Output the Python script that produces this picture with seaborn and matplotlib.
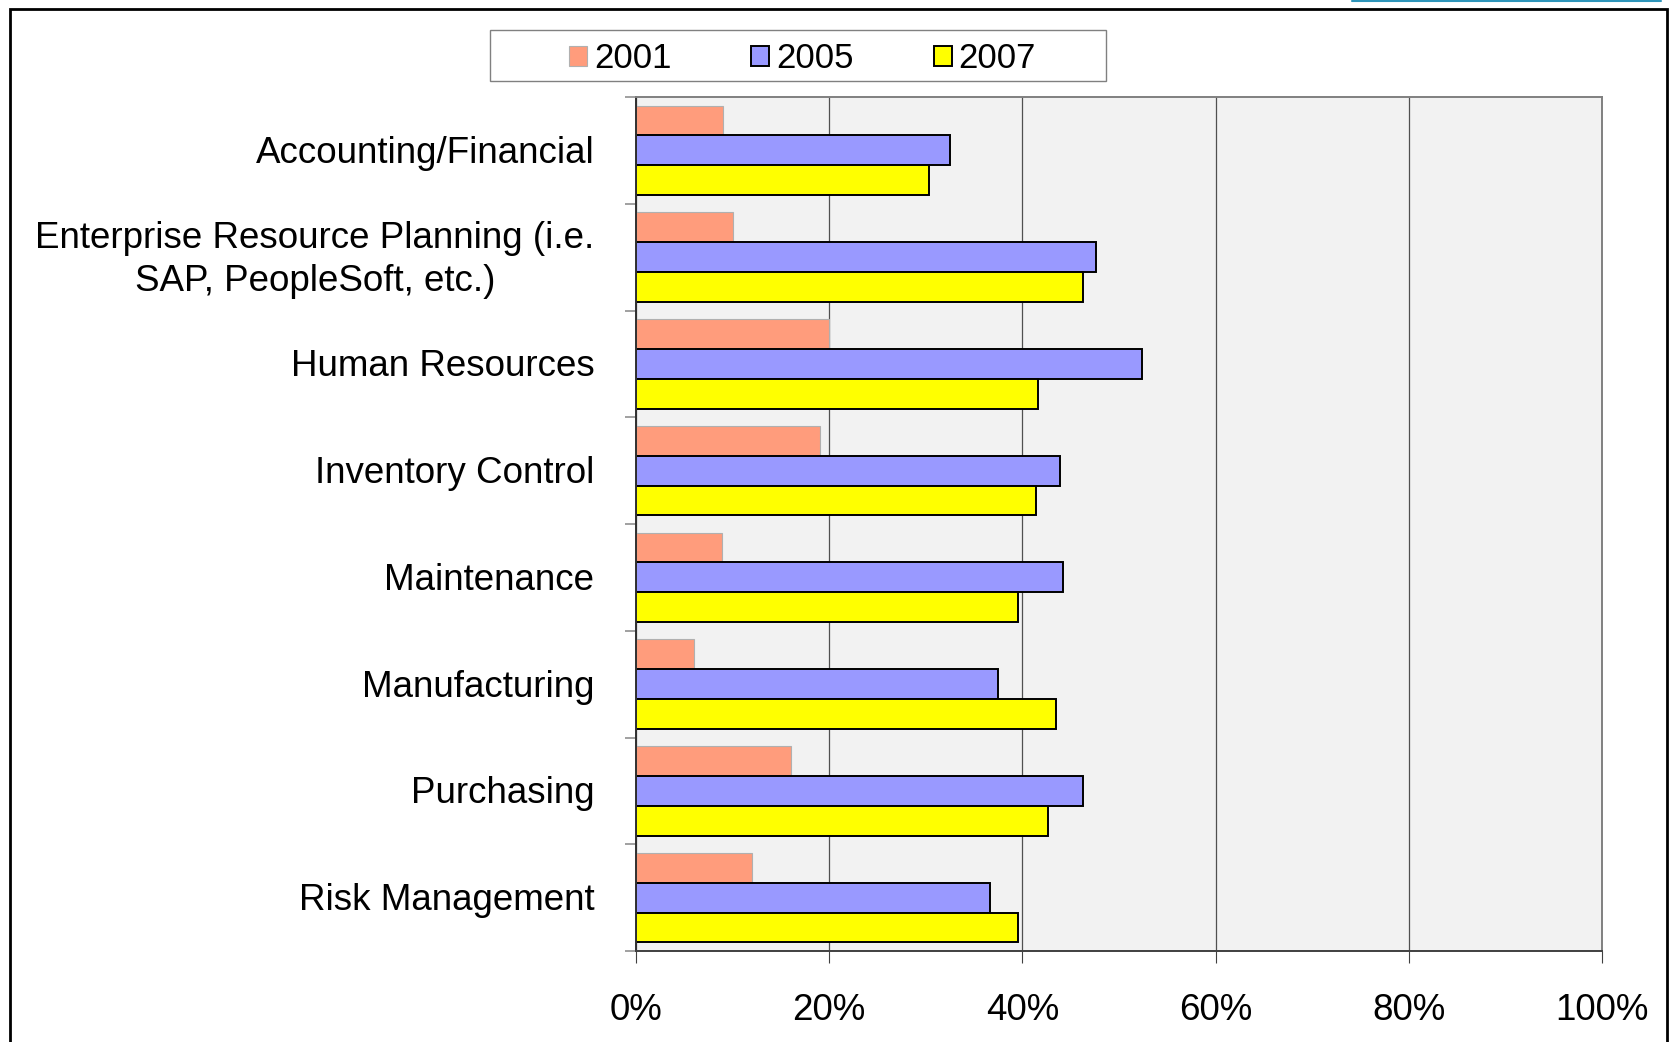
import matplotlib.pyplot as plt
import matplotlib.patches as mpatches
import matplotlib.transforms as mtransforms
from matplotlib.lines import Line2D
from matplotlib.ticker import PercentFormatter
import numpy as np
import pandas as pd
import seaborn as sns

# values (share of respondents)
categories = [
    "Accounting/Financial",
    "Enterprise Resource Planning (i.e.\nSAP, PeopleSoft, etc.)",
    "Human Resources",
    "Inventory Control",
    "Maintenance",
    "Manufacturing",
    "Purchasing",
    "Risk Management",
]
years = ["2001", "2005", "2007"]
vals_2001 = [0.090, 0.100, 0.200, 0.190, 0.089, 0.060, 0.160, 0.120]
vals_2005 = [0.325, 0.476, 0.524, 0.439, 0.442, 0.375, 0.463, 0.366]
vals_2007 = [0.303, 0.463, 0.416, 0.414, 0.395, 0.435, 0.427, 0.395]
colors = ["#FF9C7C", "#9999FF", "#FFFF00"]
xticks = [0, 0.2, 0.4, 0.6, 0.8, 1.0]

df = pd.DataFrame({
    "Category": categories * 3,
    "Year": [y for y in years for _ in categories],
    "Share": vals_2001 + vals_2005 + vals_2007,
})

sns.set_style("white")
plt.rcParams["font.family"] = ["Liberation Sans", "DejaVu Sans"]
plt.rcParams["text.color"] = "black"
plt.rcParams["xtick.labelcolor"] = "black"
plt.rcParams["ytick.labelcolor"] = "black"

fig = plt.figure(figsize=(16.7, 10.42), dpi=100)
ax = fig.add_axes([636 / 1670, 91 / 1042, 966 / 1670, 854 / 1042])

sns.barplot(data=df, x="Share", y="Category", hue="Year", orient="h",
            palette=colors, saturation=1, width=0.84, legend=False, ax=ax)

# edges: light one for 2001, black for the others
for cont, ec, lw in zip(ax.containers, ["#B0B0B0", "black", "black"], [0.8, 1.4, 1.4]):
    for bar in cont:
        bar.set_edgecolor(ec)
        bar.set_linewidth(lw)

ax.set_facecolor("#F2F2F2")
ax.set_xlim(0, 1)
ax.set_ylim(7.5, -0.5)
ax.set_xlabel("")
ax.set_ylabel("")
ax.set_xticks(xticks)
ax.xaxis.set_major_formatter(PercentFormatter(1.0, decimals=0))
ax.tick_params(axis="x", length=8.6, width=0.8, color="#404040",
               labelsize=26.5, pad=21.5, direction="out", bottom=True)
ax.tick_params(axis="y", which="major", length=0, labelsize=26.5, pad=30)
ax.set_yticks(np.arange(-0.5, 8, 1), minor=True)
ax.tick_params(axis="y", which="minor", length=8, width=1.2, color="#909090",
               direction="out", left=True)
nudge = mtransforms.ScaledTranslation(0, 1 / 72, fig.dpi_scale_trans)
for lab in ax.get_yticklabels():
    lab.set_multialignment("center")
    lab.set_linespacing(1.3)
    if "\n" in lab.get_text():
        nudge = mtransforms.ScaledTranslation(0, 4 / 72, fig.dpi_scale_trans)
    else:
        nudge = mtransforms.ScaledTranslation(0, 0.7 / 72, fig.dpi_scale_trans)
    lab.set_transform(lab.get_transform() + nudge)

ax.grid(axis="x", color="#505050", linewidth=0.9)
ax.set_axisbelow(True)
for side, c in [("left", "#303030"), ("bottom", "#404040"), ("top", "#808080"), ("right", "#808080")]:
    ax.spines[side].set_color(c)
    ax.spines[side].set_linewidth(1.4)

# legend
handles = [
    mpatches.Patch(facecolor=colors[0], edgecolor="#B0B0B0", linewidth=0.8),
    mpatches.Patch(facecolor=colors[1], edgecolor="black", linewidth=1.4),
    mpatches.Patch(facecolor=colors[2], edgecolor="black", linewidth=1.4),
]
fig.legend(handles, years, loc="center", bbox_to_anchor=(0.4805, 0.9435),
           ncol=3, frameon=False, fontsize=25, handlelength=0.52, handleheight=0.52,
           handletextpad=0.2, columnspacing=2.3, borderpad=0)
fig.patches.append(mpatches.Rectangle((490 / 1670, 1 - 81 / 1042), 616 / 1670, 51 / 1042,
                                      transform=fig.transFigure, fill=False,
                                      edgecolor="#808080", linewidth=1))

# outer frame and the teal line at the top
fig.patches.append(mpatches.Rectangle((10 / 1670, -0.05), 1657 / 1670, 1.05 - 9 / 1042,
                                      transform=fig.transFigure, fill=False,
                                      edgecolor="black", linewidth=2))
fig.lines.append(Line2D([1352 / 1670, 1661 / 1670], [1 - 0.8 / 1042] * 2,
                        transform=fig.transFigure, color="#2E95BA", linewidth=1.5))

fig.savefig("out.png", dpi=100)
